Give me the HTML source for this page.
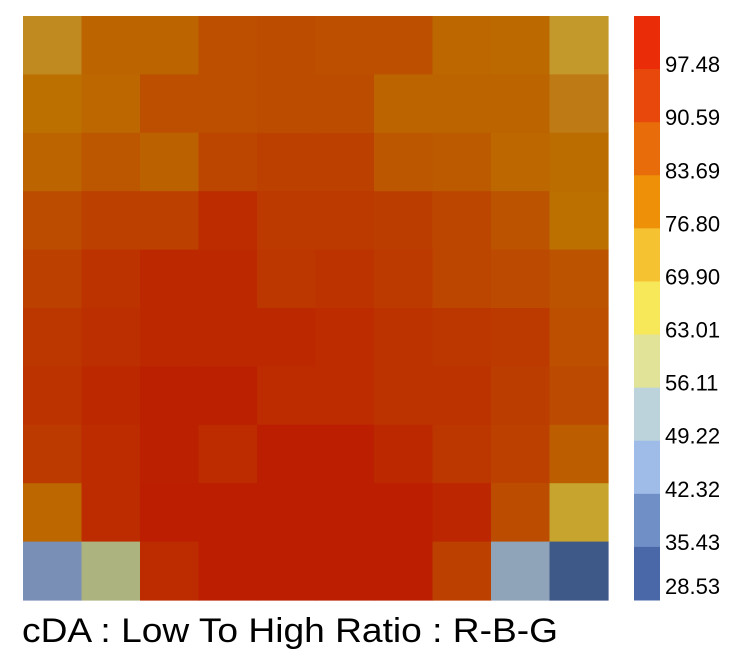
<!DOCTYPE html>
<html><head><meta charset="utf-8"><style>
html,body{margin:0;padding:0;background:#fff;width:754px;height:655px;overflow:hidden}
svg{display:block}
</style></head><body>
<svg id="chart" width="754" height="655" xmlns="http://www.w3.org/2000/svg">
<g id="cells"></g>
<g id="cbar"></g>
<text x="22" y="642" font-family="Liberation Sans, sans-serif" font-size="34" textLength="536" lengthAdjust="spacingAndGlyphs" fill="#000">cDA : Low To High Ratio : R-B-G</text>
</svg>
<script>
const rows = [0,1,2,3,4,5,6,7,8,9];
const cols = [0,1,2,3,4,5,6,7,8,9];
const values = [
 [72,82,82,88,89,88,88,81,80,69],
 [78,81,88,88,89,89,82,82,82,75],
 [82,86,83,91,93,93,86,85,81,79],
 [89,93,93,99,95,95,94,91,87,78],
 [93,97,100,100,96,97,95,91,90,87],
 [96,98,100,100,100,99,97,96,95,88],
 [97,100,103,103,99,99,97,97,94,90],
 [95,99,103,99,104,104,100,96,93,84],
 [81,99,104,104,104,104,104,101,89,66],
 [38,56,99,104,104,104,104,93,47,29]
];
const tickLabels = ["97.48","90.59","83.69","76.80","69.90","63.01","56.11","49.22","42.32","35.43","28.53"];
const barColors = ["#ea2c08","#e8480c","#e86c0a","#ee9008","#f5c232","#f7e85a","#e0e398","#bdd3dc","#9fbbe8","#6f8fc6","#4a68a8"];
const scaleVals = [28.5,38,47,56,66,70,75,78,82,88,93,99,104];
const scaleCols = ["#3b5586","#7a8fb5","#8fa3b9","#adb37e","#c6a42e","#c2952a","#be7a14","#bc7000","#bc6400","#bc5000","#bc4000","#bc2c00","#bb1e00"];

const NS="http://www.w3.org/2000/svg";
const X0=23,Y0=16,W=585,H=584;
function xPos(c){return X0+c*W/cols.length;}
function yPos(r){return Y0+r*H/rows.length;}
function hex(h){return [1,3,5].map(i=>parseInt(h.substr(i,2),16));}
function color(v){
  if(v<=scaleVals[0])return scaleCols[0];
  for(let i=1;i<scaleVals.length;i++){
    if(v<=scaleVals[i]){
      const t=(v-scaleVals[i-1])/(scaleVals[i]-scaleVals[i-1]);
      const a=hex(scaleCols[i-1]),b=hex(scaleCols[i]);
      return "rgb("+a.map((x,k)=>Math.round(x+(b[k]-x)*t)).join(",")+")";
    }
  }
  return scaleCols[scaleCols.length-1];
}
const g=document.getElementById("cells");
rows.forEach(r=>cols.forEach(c=>{
  const el=document.createElementNS(NS,"rect");
  el.setAttribute("x",xPos(c));el.setAttribute("y",yPos(r));
  el.setAttribute("width",W/cols.length+0.6);el.setAttribute("height",H/rows.length+0.6);
  el.setAttribute("fill",color(values[r][c]));
  
  
  g.appendChild(el);
}));
const cb=document.getElementById("cbar");
const CX=634,CW=26,CY=16,CH=584,n=barColors.length,sh=CH/n;
barColors.forEach((col,i)=>{
  const el=document.createElementNS(NS,"rect");
  el.setAttribute("x",CX);el.setAttribute("y",CY+i*sh);
  el.setAttribute("width",CW);el.setAttribute("height",sh+0.5);
  el.setAttribute("fill",col);
  
  
  cb.appendChild(el);
});
tickLabels.forEach((t,i)=>{
  const el=document.createElementNS(NS,"text");
  const y=(i<n-1)?CY+(i+1)*sh:CY+CH-9;
  el.setAttribute("x",665);el.setAttribute("y",y+3);
  el.setAttribute("font-family","Liberation Sans, sans-serif");
  el.setAttribute("font-size","22");
  el.setAttribute("fill","#000");
  el.textContent=t;
  
  
  cb.appendChild(el);
});
</script>
</body></html>
